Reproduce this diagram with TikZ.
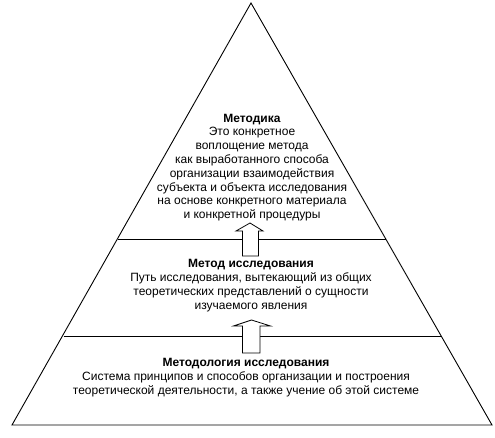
\documentclass[tikz,border=0pt]{standalone}
\usepackage{fontspec}
\setmainfont{Liberation Sans}
\begin{document}
\begin{tikzpicture}[x=1pt,y=-1pt,
  edge/.style={line width=0.9pt,line join=miter},
  txt/.style={align=center,font=\fontsize{12}{13.8}\selectfont,inner sep=0pt},
  uparrow/.style={fill=white,draw=black,line width=0.8pt,line join=miter}]
\useasboundingbox (0,0) rectangle (495,438);
% pyramid outline
\coordinate (apex) at (251,3);
\coordinate (bl) at (12,425);
\coordinate (br) at (492,425);
\draw[edge] (apex) -- (bl) -- (br) -- cycle;
% level lines
\coordinate (l1a) at (118,239);
\coordinate (l1b) at (385.5,239);
\coordinate (l2a) at (63.5,336);
\coordinate (l2b) at (441,336);
\draw[edge] (l1a) -- (l1b);
\draw[edge] (l2a) -- (l2b);
% arrows
\draw[uparrow] (242.5,256) -- (242.5,231) -- (236,231) -- (250,223) -- (263,231) -- (258.5,231) -- (258.5,256) -- cycle;
\draw[uparrow] (242.5,353) -- (242.5,326) -- (233.5,326) -- (251.5,320) -- (270.5,326) -- (260,326) -- (260,353) -- cycle;
% texts
\node[txt] (top) at (252,167.5) {\textbf{Методика}\\Это конкретное\\воплощение метода\\как выработанного способа\\организации взаимодействия\\субъекта и объекта исследования\\на основе конкретного материала\\и конкретной процедуры};
\node[txt] (mid) at (251,285.5) {\textbf{Метод исследования}\\Путь исследования, вытекающий из общих\\теоретических представлений о сущности\\изучаемого явления};
\node[txt] (bot) at (246,377.5) {\textbf{Методология исследования}\\Система принципов и способов организации и построения\\теоретической деятельности, а также учение об этой системе};
\end{tikzpicture}
\end{document}
